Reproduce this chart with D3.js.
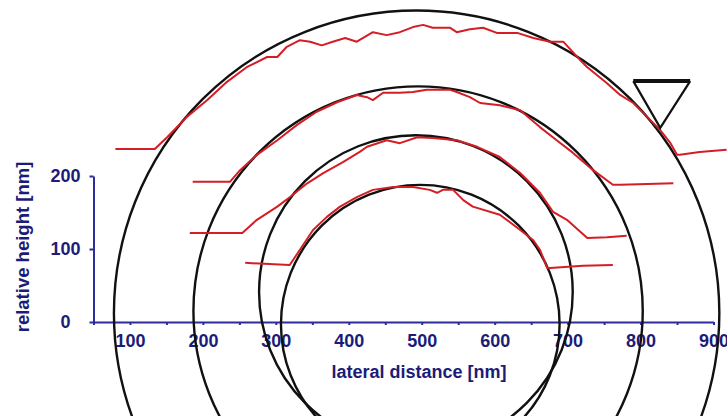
<!DOCTYPE html>
<html>
<head>
<meta charset="utf-8">
<script src="https://cdn.jsdelivr.net/npm/d3@7"></script>
<style>
  body { margin: 0; background: #fff; }
  text { font-family: "Liberation Sans", Arial, sans-serif; font-weight: bold; }
</style>
</head>
<body>
<div id="chart"></div>
<script>
// circles fitted to the profiles: center x, center y, radius (nm)
const circleCx = [493, 495, 492, 498];
const circleCy = [12, 15, 41, -3];
const circleR = [415, 308, 215, 191];

// measured height profiles [lateral nm, height nm]
const profile1 = [[80,237],[134,237],[151,253],[178,281],[206,304],[233,329],[260,349],[288,363],[302,363],[315,377],[333,386],[347,384],[363,379],[378,384],[395,389],[411,384],[433,397],[452,393],[470,397],[488,404],[502,407],[515,403],[539,403],[548,397],[566,401],[584,403],[603,396],[631,396],[653,389],[676,384],[694,384],[717,359],[727,349],[754,327],[772,311],[790,300],[809,281],[827,263],[841,245],[850,229],[854,229],[881,233],[918,236]];
const profile2 = [[186,192],[237,192],[251,208],[274,229],[302,249],[329,270],[356,288],[384,301],[411,311],[425,308],[433,304],[447,314],[470,314],[488,315],[507,318],[539,318],[548,315],[566,308],[580,300],[607,297],[635,290],[662,267],[685,249],[707,232],[735,208],[762,188],[772,188],[809,189],[845,190]];
const profile3 = [[182,122],[254,122],[274,140],[302,158],[319,171],[343,190],[365,204],[392,219],[415,233],[425,240],[452,249],[470,245],[494,253],[515,252],[548,249],[576,240],[607,226],[635,204],[662,177],[680,151],[699,140],[727,115],[754,116],[781,118]];
const profile4 = [[258,81],[319,78],[333,99],[351,126],[370,144],[388,158],[411,171],[433,181],[461,185],[488,185],[511,181],[521,177],[529,181],[543,181],[557,167],[570,158],[607,147],[635,126],[653,112],[662,99],[672,74],[676,74],[721,77],[762,78]];
const profiles = [profile1, profile2, profile3, profile4];

// AFM tip outline
const tipTop = [[790,330],[868,330]];
const tipApex = [827,266];

const xTicks = d3.range(50, 901, 50);
const yTicks = [0, 100, 200];

const width = 727, height = 416;
const navy = '#1c1c78';
const axisBlue = '#2c2c9c';

const svg = d3.select('#chart')
  .append('svg')
  .attr('width', width)
  .attr('height', height);

const xScale = d3.scaleLinear().domain([50, 900]).range([93.5, 713.5]);
const yScale = d3.scaleLinear().domain([0, 200]).range([322, 176]);

// axes
const xAxis = svg.append('g')
  .attr('transform', `translate(0, ${yScale(0)})`)
  .call(d3.axisBottom(xScale)
    .tickValues(xTicks)
    .tickSize(3)
    .tickSizeOuter(0)
    .tickPadding(9)
    .tickFormat(d => d % 100 === 0 ? d : ''));
xAxis.select('.domain').attr('stroke', axisBlue).attr('stroke-width', 2);
xAxis.selectAll('.tick line').attr('stroke', axisBlue).attr('stroke-width', 2);
xAxis.selectAll('.tick text')
  .attr('fill', navy)
  .style('font-size', '18px');

const yAxis = svg.append('g')
  .attr('transform', `translate(${xScale(50)}, 0)`)
  .call(d3.axisLeft(yScale)
    .tickValues(yTicks)
    .tickSize(4)
    .tickSizeOuter(0));
yAxis.select('.domain').attr('stroke', axisBlue).attr('stroke-width', 2);
yAxis.selectAll('.tick line').attr('stroke', axisBlue).attr('stroke-width', 2);
yAxis.selectAll('.tick text')
  .attr('x', -28)
  .attr('text-anchor', 'middle')
  .attr('fill', navy)
  .style('font-size', '18px');

svg.append('text')
  .attr('x', 419)
  .attr('y', 378)
  .attr('text-anchor', 'middle')
  .attr('fill', navy)
  .style('font-size', '18px')
  .text('lateral distance [nm]');

svg.append('text')
  .attr('transform', 'translate(29, 247) rotate(-90)')
  .attr('text-anchor', 'middle')
  .attr('fill', navy)
  .style('font-size', '18.5px')
  .text('relative height [nm]');

// circles
svg.selectAll('circle.fit')
  .data(circleR)
  .join('circle')
  .attr('class', 'fit')
  .attr('cx', (d, i) => xScale(circleCx[i]))
  .attr('cy', (d, i) => yScale(circleCy[i]))
  .attr('r', (d, i) => xScale(circleCx[i] + d) - xScale(circleCx[i]))
  .attr('fill', 'none')
  .attr('stroke', '#111')
  .attr('stroke-width', 2.4);

// profiles
const line = d3.line()
  .x(d => xScale(d[0]))
  .y(d => yScale(d[1]));

svg.selectAll('path.profile')
  .data(profiles)
  .join('path')
  .attr('class', 'profile')
  .attr('d', line)
  .attr('fill', 'none')
  .attr('stroke', '#d41e26')
  .attr('stroke-width', 2)
  .attr('stroke-linejoin', 'round');

// tip
svg.append('path')
  .attr('d', line([tipTop[0], tipApex, tipTop[1]]))
  .attr('fill', 'none')
  .attr('stroke', '#111')
  .attr('stroke-width', 2.2);
svg.append('path')
  .attr('d', line(tipTop))
  .attr('stroke', '#111')
  .attr('stroke-width', 4);
</script>
</body>
</html>
